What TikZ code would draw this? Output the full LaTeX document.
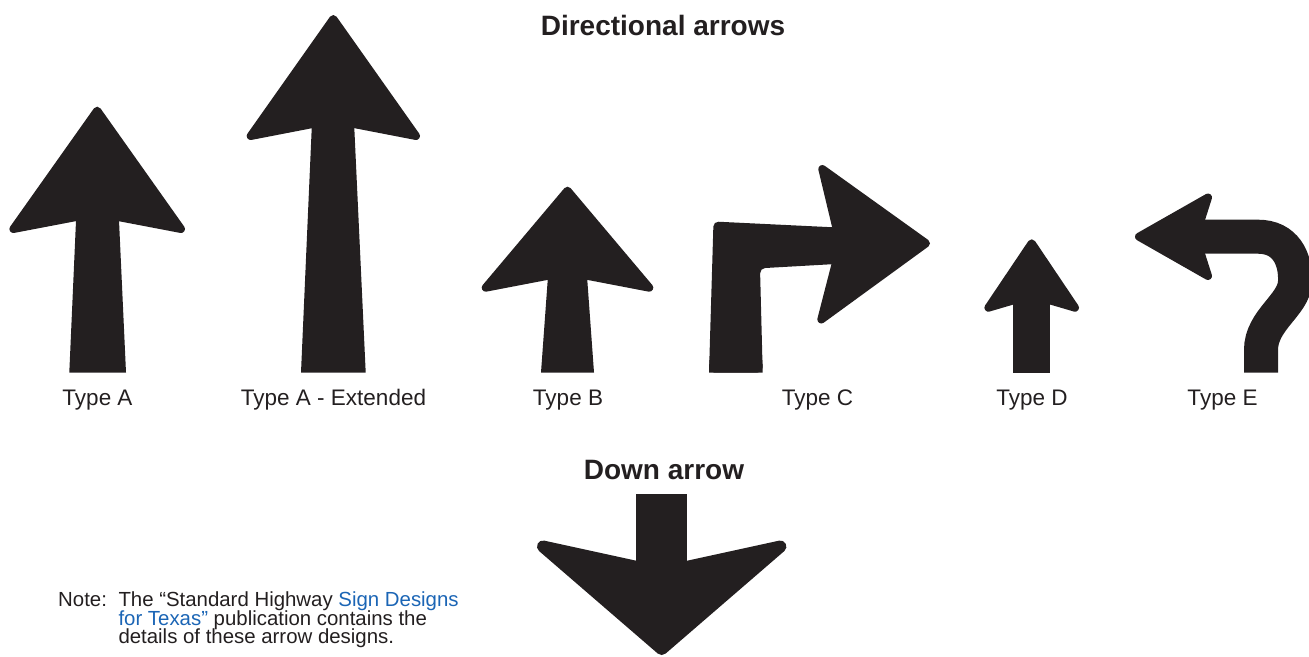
\documentclass[tikz,border=0pt]{standalone}
\usepackage{fontspec}
\setmainfont{Liberation Sans}
\definecolor{ink}{RGB}{35,31,32}
\definecolor{linkblue}{RGB}{27,101,181}
\tikzset{
  headshape/.style={fill=ink, draw=ink, line width=8pt, line join=round},
  bighead/.style={fill=ink, draw=ink, line width=12pt, line join=round},
  shaftshape/.style={fill=ink},
  lbl/.style={anchor=base, inner sep=0pt, text=ink, font=\fontsize{22.5}{26}\selectfont},
  ttl/.style={anchor=base, inner sep=0pt, text=ink, font=\fontsize{28}{32}\selectfont\bfseries},
  notetxt/.style={anchor=base west, inner sep=0pt, text=ink, font=\fontsize{20.4}{22}\selectfont},
}
\begin{document}
\begin{tikzpicture}[x=1pt,y=-1pt]
\useasboundingbox (0,0) rectangle (1309,656);

% Type A
\fill[shaftshape] (76.7,205) -- (118.3,205) -- (126,372.5) -- (69.3,372.5) -- cycle;
\filldraw[headshape] (97.2,110.7) -- (181,229) -- (97.2,213) -- (13.4,229) -- cycle;

% Type A - Extended
\fill[shaftshape] (312.3,115) -- (353.7,115) -- (365.7,372.5) -- (301,372.5) -- cycle;
\filldraw[headshape] (333.3,19) -- (416,136) -- (333.3,120) -- (250.7,136) -- cycle;

% Type B
\fill[shaftshape] (548.8,265) -- (586.2,265) -- (594,372.5) -- (541,372.5) -- cycle;
\filldraw[headshape] (567.5,190.7) -- (649.3,287.7) -- (567.5,272) -- (485.7,287.7) -- cycle;

% Type C
\fill[rounded corners=5pt,ink] (709,372.5) -- (713.5,221.5) -- (850,228.1) -- (850,263.2) -- (760,268.3) -- (762.7,372.5) -- cycle;
\fill[shaftshape] (709,372.5) -- (709.4,360) -- (762.4,360) -- (762.7,372.5) -- cycle;
\filldraw[headshape] (926,243.3) -- (821.3,319.5) -- (840.5,245) -- (822.3,169) -- cycle;

% Type D
\fill[shaftshape] (1013.3,288) rectangle (1050,372.5);
\filldraw[headshape] (1031.7,243.3) -- (1075,307.7) -- (1031.7,295) -- (988.4,307.7) -- cycle;

% Type E
\draw[ink, line width=34pt] (1190,236.7) -- (1258,236.7)
  .. controls (1285,236.7) and (1296,258) .. (1295,282)
  .. controls (1294,305) and (1261,320) .. (1261,350) -- (1261,372.5);
\filldraw[headshape] (1139,236.7) -- (1208,197.5) -- (1195.5,236.7) -- (1208,276) -- cycle;

% Down arrow
\fill[shaftshape] (636,494) rectangle (687.3,580);
\filldraw[bighead] (661.7,649) -- (543,546.5) -- (661.7,572.4) -- (780.4,546.5) -- cycle;

% Texts
\node[ttl] (t1) at (663,35.5) {Directional arrows};
\node[ttl] (t2) at (664,479) {Down arrow};

\node[lbl] (la) at (97.5,405) {Type A};
\node[lbl] (lax) at (333.5,405) {Type A - Extended};
\node[lbl] (lb) at (568,405) {Type B};
\node[lbl] (lc) at (817.5,405) {Type C};
\node[lbl] (ld) at (1032,405) {Type D};
\node[lbl] (le) at (1222.5,405) {Type E};

\node[notetxt] (n0) at (58,606.7) {Note:};
\node[notetxt] (n1) at (118.3,606.7) {The “Standard Highway \textcolor{linkblue}{Sign Designs}};
\node[notetxt] (n2) at (118.3,625) {\textcolor{linkblue}{for Texas”} publication contains the};
\node[notetxt] (n3) at (118.3,643.3) {details of these arrow designs.};
\end{tikzpicture}
\end{document}
